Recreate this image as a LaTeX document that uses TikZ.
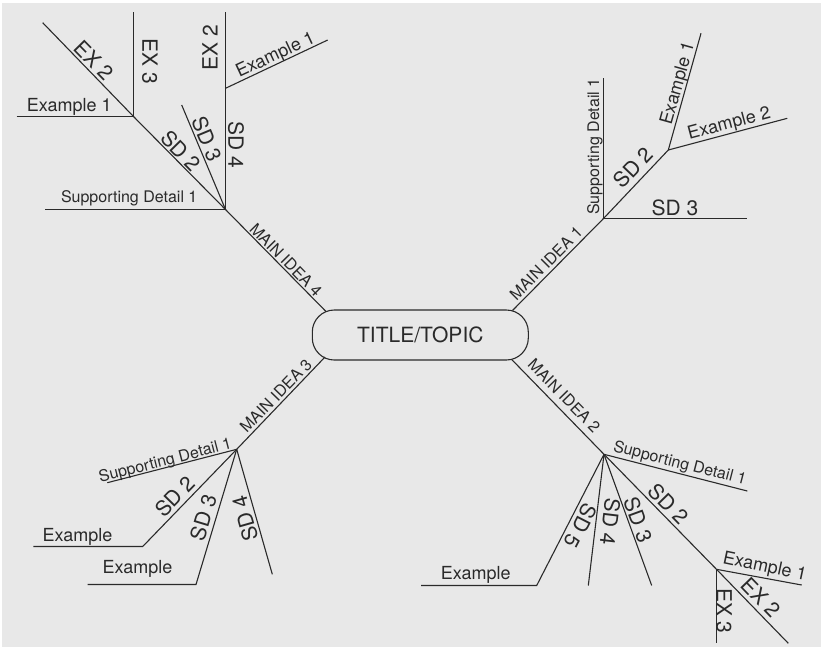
\documentclass[tikz,border=0pt]{standalone}
\usepackage{fontspec}
\setmainfont{TeX Gyre Heros}
\definecolor{bg}{HTML}{E8E8E8}
\definecolor{ink}{HTML}{2A2A2A}
\begin{document}
\begin{tikzpicture}[x=1pt,y=-1pt,
  branch/.style={draw=ink, line width=1.1pt},
  lab/.style={text=ink, inner sep=0pt, anchor=center, text depth=0pt},
  big/.style={lab, font=\fontsize{21}{21}\selectfont, text height=15.1pt},
  mid/.style={lab, font=\fontsize{18}{18}\selectfont, text height=12.9pt},
  small/.style={lab, font=\fontsize{16}{16}\selectfont, text height=11.5pt},
]
% canvas
\fill[white] (0,0) rectangle (824,649);
\fill[bg] (2,3) rectangle (821,647);
\useasboundingbox (0,0) rectangle (824,649);

% central topic
\node[draw=ink, line width=1.1pt, rounded corners=22pt, minimum width=216pt,
      minimum height=50pt, inner sep=0pt, text=ink, text height=15.1pt, text depth=0pt,
      font=\fontsize{21}{21}\selectfont] (title) at (420.3,335) {TITLE/TOPIC};
\coordinate (t1) at (512.5,310.5);
\coordinate (t2) at (511.7,359.5);
\coordinate (t3) at (325,357);
\coordinate (t4) at (326,311.5);

% ---------- main idea 4 (upper left) ----------
\coordinate (n4) at (225.5,209.5);
\coordinate (e4) at (133.5,116.5);
\coordinate (a4) at (42.7,22.7);
\coordinate (f4) at (225.5,88.3);
\coordinate (n4sd1) at (45,209.5);
\coordinate (n4sd3) at (181.7,105);
\coordinate (n4top) at (225.5,11.7);
\coordinate (f4ex1) at (327.7,40);
\coordinate (e4ex1) at (16.7,116.5);
\coordinate (e4ex3) at (133.5,11.7);
\draw[branch] (t4) -- (n4) -- (e4) -- (a4);
\draw[branch] (n4sd1) -- (n4);
\draw[branch] (n4sd3) -- (n4);
\draw[branch] (n4) -- (f4) -- (n4top);
\draw[branch] (f4) -- (f4ex1);
\draw[branch] (e4ex1) -- (e4) -- (e4ex3);

\node[small, rotate=-45.6] (m4) at (286,260) {MAIN IDEA 4};
\node[small] (m4sd1) at (129.2,196.5) {Supporting Detail 1};
\node[big, rotate=-45.6] (m4sd2) at (180.8,150.8) {SD 2};
\node[big, rotate=-67.4] (m4sd3) at (206.7,139.2) {SD 3};
\node[big, rotate=-90] (m4sd4) at (235.8,145) {SD 4};
\node[mid] (m4e1) at (69.2,105) {Example 1};
\node[big, rotate=-45.6] (m4e2) at (94,60) {EX 2};
\node[big, rotate=-90] (m4e3) at (150,61) {EX 3};
\node[big, rotate=90] (m4f2) at (210,47.5) {EX 2};
\node[mid, rotate=25] (m4f1) at (275,54) {Example 1};

% ---------- main idea 1 (upper right) ----------
\coordinate (n1) at (603.5,218.5);
\coordinate (g1) at (668.3,150);
\coordinate (n1sd1) at (603.5,78.3);
\coordinate (n1sd3) at (746.7,218.5);
\coordinate (g1ex1) at (701,33.3);
\coordinate (g1ex2) at (787.3,118.3);
\draw[branch] (t1) -- (n1);
\draw[branch] (n1) -- (n1sd1);
\draw[branch] (n1) -- (n1sd3);
\draw[branch] (n1) -- (g1) -- (g1ex1);
\draw[branch] (g1) -- (g1ex2);

\node[small, rotate=45.1] (m1) at (546,263.3) {MAIN IDEA 1};
\node[small, rotate=90] (m1sd1) at (593.3,146.5) {Supporting Detail 1};
\node[big, rotate=46.2] (m1sd2) at (633.3,167.5) {SD 2};
\node[big] (m1sd3) at (675,207.5) {SD 3};
\node[mid, rotate=74.3] (m1e1) at (676.7,83.3) {Example 1};
\node[mid, rotate=14.9] (m1e2) at (728.8,122.5) {Example 2};

% ---------- main idea 3 (lower left) ----------
\coordinate (n3) at (236.7,449.3);
\coordinate (n3sd1) at (107.3,482.7);
\coordinate (h3a) at (142.7,546.5);
\coordinate (h3aex) at (33.3,546.5);
\coordinate (h3b) at (196,584.5);
\coordinate (h3bex) at (87.7,584.5);
\coordinate (n3sd4) at (272.3,574.3);
\draw[branch] (t3) -- (n3);
\draw[branch] (n3) -- (n3sd1);
\draw[branch] (n3) -- (h3a) -- (h3aex);
\draw[branch] (n3) -- (h3b) -- (h3bex);
\draw[branch] (n3) -- (n3sd4);

\node[small, rotate=45.9] (m3) at (275.8,395.8) {MAIN IDEA 3};
\node[small, rotate=14.5] (m3sd1) at (165,460) {Supporting Detail 1};
\node[big, rotate=45.8] (m3sd2) at (175,496.7) {SD 2};
\node[big, rotate=73.2] (m3sd3) at (203.3,517.5) {SD 3};
\node[big, rotate=105.9] (m3sd4) at (245,518.3) {SD 4};
\node[mid] (m3ea) at (77.5,535) {Example};
\node[mid] (m3eb) at (137.5,566.7) {Example};

% ---------- main idea 2 (lower right) ----------
\coordinate (n2) at (604,454.3);
\coordinate (n2sd1) at (747.3,491);
\coordinate (g2) at (716.5,569.3);
\coordinate (g2ex1) at (801.7,585);
\coordinate (g2ex2) at (788.3,643.3);
\coordinate (g2ex3) at (716.5,643.3);
\coordinate (n2sd3) at (651.7,585.5);
\coordinate (n2sd4) at (588.3,585.5);
\coordinate (h2) at (536.7,585.5);
\coordinate (h2ex) at (421,585.5);
\draw[branch] (t2) -- (n2);
\draw[branch] (n2) -- (n2sd1);
\draw[branch] (n2) -- (g2) -- (g2ex2);
\draw[branch] (g2) -- (g2ex1);
\draw[branch] (g2) -- (g2ex3);
\draw[branch] (n2) -- (n2sd3);
\draw[branch] (n2) -- (n2sd4);
\draw[branch] (n2) -- (h2) -- (h2ex);

\node[small, rotate=-45.6] (m2) at (564.2,395.8) {MAIN IDEA 2};
\node[small, rotate=-14.4] (m2sd1) at (680,462.5) {Supporting Detail 1};
\node[big, rotate=-45.6] (m2sd2) at (668.3,504.2) {SD 2};
\node[big, rotate=-70] (m2sd3) at (638,520) {SD 3};
\node[big, rotate=-96.8] (m2sd4) at (610,521.7) {SD 4};
\node[big, rotate=-117.2] (m2sd5) at (580.8,525.8) {SD 5};
\node[mid] (m2ex) at (475.8,573.3) {Example};
\node[mid, rotate=-12] (m2e1) at (765,565.8) {Example 1};
\node[big, rotate=-45.9] (m2e2) at (760.8,597.5) {EX 2};
\node[big, rotate=-90] (m2e3) at (724.2,610.8) {EX 3};
\end{tikzpicture}
\end{document}
